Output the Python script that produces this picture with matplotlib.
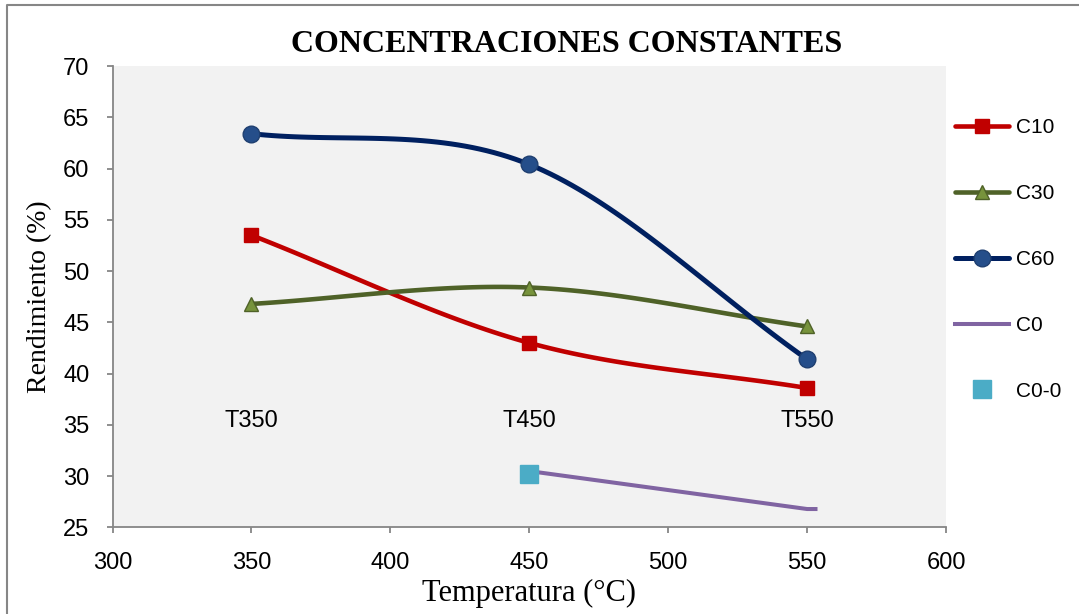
import numpy as np
import matplotlib
matplotlib.use("Agg")
from matplotlib import pyplot as plt
from matplotlib.lines import Line2D

temps = [350, 450, 550]
c10 = [53.5, 43.0, 38.6]
c30 = [46.8, 48.4, 44.6]
c60 = [63.4, 60.4, 41.4]
c0_x = [450, 550, 553]
c0 = [30.5, 26.8, 26.8]
c00_x = [450]
c00 = [30.2]
t_labels = ['T350', 'T450', 'T550']
t_label_y = 35.4


def smooth(x, y, n=40):
    # Catmull-Rom curve through the points (like Excel's smoothed line)
    x = np.asarray(x, float)
    y = np.asarray(y, float)
    px = np.concatenate([[2 * x[0] - x[1]], x, [2 * x[-1] - x[-2]]])
    py = np.concatenate([[2 * y[0] - y[1]], y, [2 * y[-1] - y[-2]]])
    xs, ys = [], []
    t = np.linspace(0, 1, n)
    for i in range(1, len(px) - 2):
        for p, out in ((px, xs), (py, ys)):
            p0, p1, p2, p3 = p[i - 1], p[i], p[i + 1], p[i + 2]
            out.extend(0.5 * (2 * p1 + (-p0 + p2) * t
                              + (2 * p0 - 5 * p1 + 4 * p2 - p3) * t ** 2
                              + (-p0 + 3 * p1 - 3 * p2 + p3) * t ** 3))
    return xs, ys


sans = ['Liberation Sans', 'DejaVu Sans']
serif = ['Liberation Serif', 'DejaVu Serif']

fig = plt.figure(figsize=(10.79, 6.14), dpi=100)
ax = fig.add_axes([0.1043, 0.1409, 0.7725, 0.7516])
ax.set_facecolor('#F2F2F2')

series = [
    ('C10', c10, '#C00000', 's', '#C00000', '#C00000', 3.3, 10),
    ('C30', c30, '#4F6228', '^', '#77933C', '#4F6228', 3.3, 10),
    ('C60', c60, '#002060', 'o', '#254E8A', '#1F3F70', 3.6, 12),
]
handles = []
for name, vals, col, mk, mfc, mec, lw, ms in series:
    sx, sy = smooth(temps, vals)
    ax.plot(sx, sy, color=col, lw=lw, solid_capstyle='round', zorder=3)
    ax.plot(temps, vals, ls='none', marker=mk, mfc=mfc, mec=mec, ms=ms, zorder=4)
    h, = ax.plot([], [], color=col, lw=lw, marker=mk, mfc=mfc, mec=mec, ms=ms,
                 solid_capstyle='round', label=name)
    handles.append(h)

h0, = ax.plot(c0_x, c0, color='#8064A2', lw=2.9, zorder=3, label='C0')
h00, = ax.plot(c00_x, c00, ls='none', marker='s', color='#4BACC6', ms=13,
               zorder=4, label='C0-0')
handles += [h0, h00]

for x, lab in zip(temps, t_labels):
    ax.text(x, t_label_y, lab, ha='center', va='center', fontsize=17, family=sans)

ax.set_xlim(300, 600)
ax.set_ylim(25, 70)
ax.set_xticks(range(300, 601, 50))
ax.set_yticks(range(25, 71, 5))
for s in ['top', 'right']:
    ax.spines[s].set_visible(False)
for s in ['left', 'bottom']:
    ax.spines[s].set_color('#868686')
    ax.spines[s].set_linewidth(1.3)
ax.tick_params(colors='#868686', labelcolor='black', length=4.5, width=1.3, labelsize=17)
ax.tick_params(axis='x', pad=13)
ax.tick_params(axis='y', pad=12)
for lab in ax.get_xticklabels() + ax.get_yticklabels():
    lab.set_family(sans)

ax.set_xlabel('Temperatura (°C)', fontsize=22, family=serif, labelpad=4)
ax.set_ylabel('Rendimiento (%)', fontsize=20, family=serif, labelpad=8)
fig.text(0.5255, 0.928, 'CONCENTRACIONES CONSTANTES', ha='center', va='center',
         fontsize=23, fontweight='bold', family=serif)

leg = fig.legend(handles=handles, loc='upper left', bbox_to_anchor=(0.868, 0.838),
                 frameon=False, prop={'family': sans, 'size': 15},
                 labelspacing=2.25, handlelength=2.6, handletextpad=0.3)

# chart area border (right and bottom edges fall outside the picture)
fig.add_artist(Line2D([0.0065, 0.0065, 1.0], [0.0, 0.992, 0.992],
                      transform=fig.transFigure, color='#868686', lw=1.5))

fig.savefig('out.png', dpi=100)
